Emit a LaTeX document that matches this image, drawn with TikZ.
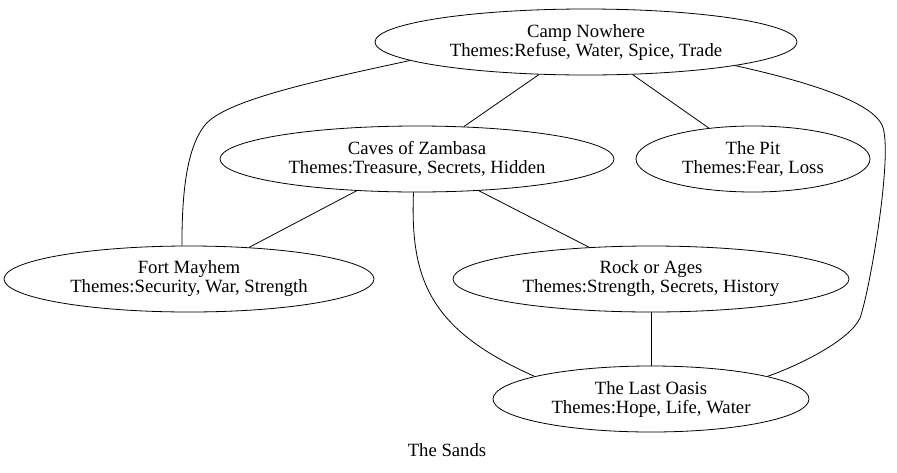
\documentclass[tikz,border=0pt]{standalone}
\usepackage{fontspec}
\setmainfont{Liberation Serif}
\usetikzlibrary{shapes,positioning}

\begin{document}
\begin{tikzpicture}[x=1pt,y=-1pt]

  \useasboundingbox (0,0) rectangle (897,472);

  \coordinate (Camp) at (586,42);
  \coordinate (Caves) at (417,159);
  \coordinate (Pit) at (753,159);
  \coordinate (Fort) at (189,279);
  \coordinate (Rock) at (651,279);
  \coordinate (Oasis) at (651,399);

  \tikzstyle{ebox}=[draw=black,thick,
                    shape=ellipse,inner sep=0pt,
                    minimum height=66pt,align=center,
                    font=\fontsize{18.7}{19}\selectfont];
  \tikzstyle{link}=[black,thick];

  \node[ebox,minimum width=422pt] (CampBox) at (Camp)
       {Camp Nowhere\\Themes:Refuse, Water, Spice, Trade};
  \node[ebox,minimum width=394pt] (CavesBox) at (Caves)
       {Caves of Zambasa\\Themes:Treasure, Secrets, Hidden};
  \node[ebox,minimum width=234pt] (PitBox) at (Pit)
       {The Pit\\Themes:Fear, Loss};
  \node[ebox,minimum width=370pt] (FortBox) at (Fort)
       {Fort Mayhem\\Themes:Security, War, Strength};
  \node[ebox,minimum width=396pt] (RockBox) at (Rock)
       {Rock or Ages\\Themes:Strength, Secrets, History};
  \node[ebox,minimum width=316pt] (OasisBox) at (Oasis)
       {The Last Oasis\\Themes:Hope, Life, Water};

  \node[font=\fontsize{18.7}{19}\selectfont] (SandsLabel) at (447,450) {The Sands};

  \draw[link] (CampBox) -- (CavesBox);
  \draw[link] (CampBox) -- (PitBox);
  \draw[link] (CavesBox) -- (FortBox);
  \draw[link] (CavesBox) -- (RockBox);
  \draw[link] (RockBox) -- (OasisBox);

  \draw[link] (CampBox.186) .. controls (320,80) and (225,100) .. (205,125)
                  .. controls (185,150) and (182,200) .. (FortBox.102);
  \draw[link] (CampBox.351) .. controls (800,80) and (870,100) .. (882,125)
                  .. controls (894,150) and (870,290) .. (860,318)
                  .. controls (850,340) and (800,365) .. (OasisBox.11);
  \draw[link] (CavesBox.264) .. controls (410,280) and (430,330) .. (OasisBox.169);

\end{tikzpicture}
\end{document}
